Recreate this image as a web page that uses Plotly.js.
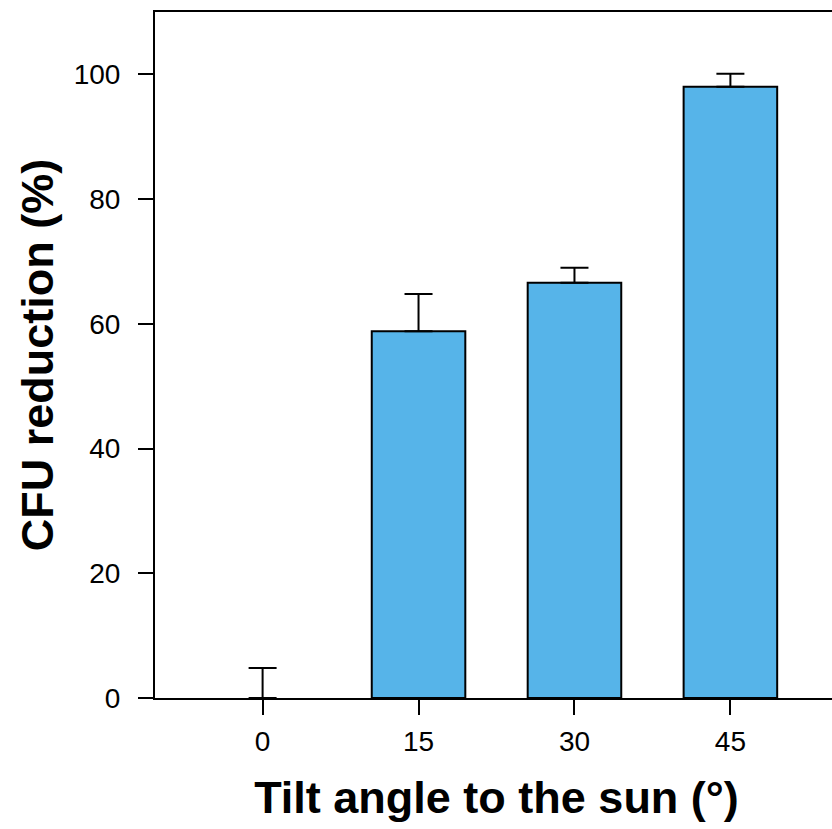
<!DOCTYPE html>
<html>
<head>
<meta charset="utf-8">
<script src="https://cdn.plot.ly/plotly-3.0.1.min.js"></script>
<style>
html, body { margin: 0; padding: 0; overflow: hidden; background: #fff; }
#chart { width: 840px; height: 829px; }
</style>
</head>
<body>
<div id="chart"></div>
<script>
const categories = ['0', '15', '30', '45'];
const cfuReduction = [0, 58.8, 66.6, 98.0];
const errorUpper = [4.8, 6.0, 2.4, 2.1];
const errorLower = [0, 0, 0, 0];
const yTickValues = [0, 20, 40, 60, 80, 100];

const trace = {
  type: 'bar',
  x: categories,
  y: cfuReduction,
  width: 0.6,
  marker: { color: '#56B4E9', line: { color: '#000000', width: [0, 2, 2, 2] } },
  error_y: {
    type: 'data',
    symmetric: false,
    array: errorUpper,
    arrayminus: errorLower,
    color: '#000000',
    thickness: 2,
    width: 14
  },
  hoverinfo: 'none'
};

const layout = {
  width: 840,
  height: 829,
  margin: { l: 155, r: 2, t: 12, b: 131 },
  paper_bgcolor: '#ffffff',
  plot_bgcolor: '#ffffff',
  showlegend: false,
  font: { family: 'Liberation Sans, Arial, sans-serif', color: '#000000' },
  xaxis: {
    type: 'category',
    range: [-0.69, 3.69],
    showgrid: false,
    zeroline: false,
    showline: true,
    linecolor: '#000000',
    linewidth: 2,
    mirror: true,
    ticks: 'outside',
    ticklen: 15,
    tickwidth: 2,
    tickcolor: '#000000',
    tickfont: { size: 28, family: 'Liberation Sans, Arial, sans-serif' },
    ticklabelstandoff: 2,
    title: { text: 'Tilt angle to the sun (°)', font: { size: 45, family: 'Liberation Sans, Arial, sans-serif', weight: 'bold' }, standoff: 26 }
  },
  yaxis: {
    range: [0, 110],
    tickvals: yTickValues,
    showgrid: false,
    zeroline: false,
    showline: true,
    linecolor: '#000000',
    linewidth: 2,
    mirror: true,
    ticks: 'outside',
    ticklen: 15,
    tickwidth: 2,
    tickcolor: '#000000',
    tickfont: { size: 28, family: 'Liberation Sans, Arial, sans-serif' },
    ticklabelstandoff: 12,
    title: { text: 'CFU reduction (%)', font: { size: 45, family: 'Liberation Sans, Arial, sans-serif', weight: 'bold' }, standoff: 6 }
  }
};

Plotly.newPlot('chart', [trace], layout, { displayModeBar: false, staticPlot: true });
</script>
</body>
</html>
